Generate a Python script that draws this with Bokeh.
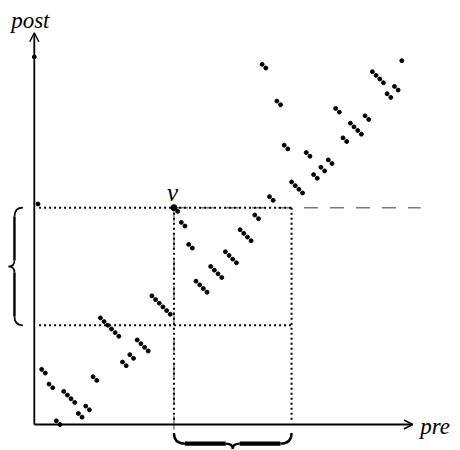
from bokeh.plotting import figure
from bokeh.models import Range1d, Label, Arrow, OpenHead
from bokeh.embed import file_html
from bokeh.resources import INLINE

# ---- data: pre-order rank vs post-order rank of 101 tree nodes ----
pre = [0, 1, 2, 3, 4, 5, 6, 7, 8, 9, 10, 11, 12, 13, 14, 15, 16, 17, 18, 19,
       20, 21, 22, 23, 24, 25, 26, 27, 28, 29, 30, 31, 32, 33, 34, 35, 36, 37, 38, 39,
       40, 41, 42, 43, 44, 45, 46, 47, 48, 49, 50, 51, 52, 53, 54, 55, 56, 57, 58, 59,
       60, 61, 62, 63, 64, 65, 66, 67, 68, 69, 70, 71, 72, 73, 74, 75, 76, 77, 78, 79,
       80, 81, 82, 83, 84, 85, 86, 87, 88, 89, 90, 91, 92, 93, 94, 95, 96, 97, 98, 99, 100]
post = [100, 60, 15, 14, 11, 10, 1, 0, 9, 8, 7, 6, 3, 2, 5, 4, 13, 12,
        29, 28, 27, 26, 25, 24, 17, 16, 19, 18, 23, 22, 21, 20, 35, 34, 33, 32, 31, 30,
        59, 58, 55, 54, 49, 48, 39, 38, 37, 36, 43, 42, 41, 40, 47, 46, 45, 44,
        53, 52, 51, 50, 57, 56, 98, 97, 62, 61, 88, 87, 76, 75, 66, 65, 64, 63,
        74, 73, 68, 67, 70, 69, 72, 71, 86, 85, 78, 77, 82, 81, 80, 79, 84, 83,
        96, 95, 94, 93, 90, 89, 92, 91, 99]
v_pre = 38
v_post = 59
window = 32          # size bound of the descendant window
x_label = "pre"
y_label = "post"
v_label = "v"

# ---- layout (pixel scale, isotropic) ----
W, H = 460, 450
S = 3.675            # px per unit
ox, oy = 33.8, 424.0 # origin inside the figure canvas (px)
xs = -ox / S
xe = xs + W / S
ye = oy / S
ys = ye - H / S

p = figure(width=W, height=H, x_range=Range1d(xs, xe), y_range=Range1d(ys, ye),
           output_backend="svg", toolbar_location=None, min_border=0,
           x_axis_type=None, y_axis_type=None)
p.outline_line_color = None
p.background_fill_color = "white"
p.border_fill_color = "white"

u = 1.0 / S  # one pixel in data units

# gray dashed quadrant lines through v
p.line([v_pre, 105.1], [v_post, v_post], line_color="#7a7a7a", line_width=1.4, line_dash="14 12")
p.line([v_pre, v_pre], [v_post, -2.3], line_color="#7a7a7a", line_width=1.4, line_dash="14 12")

# dotted window lines
dot = dict(line_color="black", line_width=2.0, line_dash="2 3")
x_r = v_pre + window
y_b = v_post - window
p.line([1.3, x_r], [v_post, v_post], **dot)
p.line([1.3, x_r], [y_b, y_b], **dot)
p.line([v_pre, v_pre], [v_post, 0.6], **dot)
p.line([x_r, x_r], [v_post, 0.6], **dot)

# axes with open arrow heads
p.add_layout(Arrow(end=OpenHead(size=9, line_width=1.4, line_color="black"),
                   x_start=0, y_start=0, x_end=103.0, y_end=0,
                   line_width=1.8, line_color="black"))
p.add_layout(Arrow(end=OpenHead(size=9, line_width=1.4, line_color="black"),
                   x_start=0, y_start=0, x_end=0, y_end=106.6,
                   line_width=1.8, line_color="black"))

# points
p.scatter(pre, post, size=3.9, color="black")
p.scatter([v_pre], [v_post], size=6, color="black")

# ---- braces ----
def brace_h(a, b, y0, y1, y2, r1, r2, lw, lw_mid):
    m = (a + b) / 2.0
    p.quadratic(x0=[a, m - r2, m, b - r1], y0=[y0, y1, y2, y1],
                x1=[a + r1, m, m + r2, b], y1=[y1, y2, y1, y0],
                cx=[a, m, m, b], cy=[y1, y1, y1, y1],
                line_color="black", line_width=lw)
    p.segment(x0=[a + r1, m + r2], y0=[y1, y1], x1=[m - r2, b - r1], y1=[y1, y1],
              line_color="black", line_width=lw_mid)

def brace_v(t, b, x0, x1, x2, r1, r2, lw, lw_mid):
    m = (t + b) / 2.0
    p.quadratic(x0=[x0, x1, x2, x1], y0=[t, m + r2, m, b + r1],
                x1=[x1, x2, x1, x0], y1=[t - r1, m, m - r2, b],
                cx=[x1, x1, x1, x1], cy=[t, m, m, b],
                line_color="black", line_width=lw)
    p.segment(x0=[x1, x1], y0=[t - r1, m - r2], x1=[x1, x1], y1=[m + r2, b + r1],
              line_color="black", line_width=lw_mid)

brace_h(v_pre, x_r, -2.3, -5.2, -6.6, 11 * u, 7 * u, 2.4, 4.2)
brace_v(v_post, y_b, -3.1, -5.4, -7.0, 9 * u, 6 * u, 1.7, 2.4)

# ---- labels ----
font = dict(text_font="Liberation Serif", text_font_style="italic",
            text_color="black", text_baseline="alphabetic")
p.add_layout(Label(x=-6.3, y=110.0, text=y_label, text_font_size="23px", **font))
p.add_layout(Label(x=105.0, y=-0.6, text=x_label, text_font_size="23px", **font))
p.add_layout(Label(x=v_pre - 0.4, y=v_post + 4.1, text=v_label, text_align="center",
                   text_font_size="25px", **font))

open("out.html", "w").write(file_html(p, INLINE))
